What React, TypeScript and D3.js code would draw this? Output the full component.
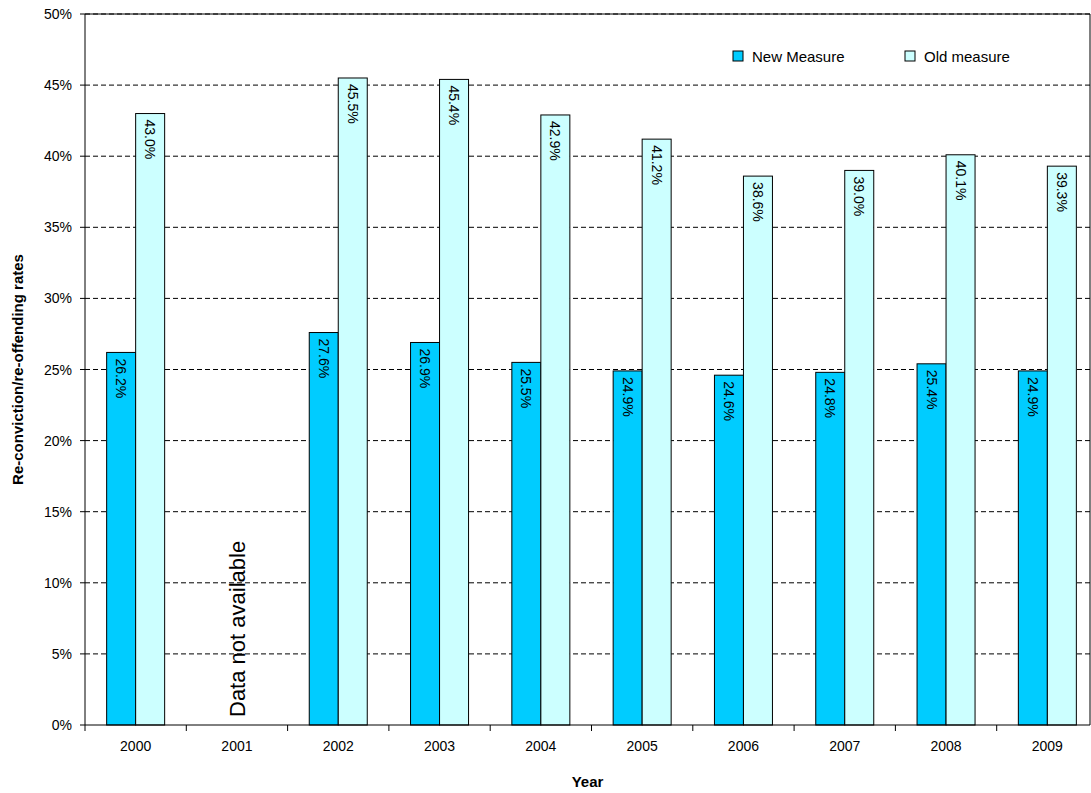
import React from 'react';
import * as d3 from 'd3';

const years = ['2000', '2001', '2002', '2003', '2004', '2005', '2006', '2007', '2008', '2009'];
const newMeasure: (number | null)[] = [26.2, null, 27.6, 26.9, 25.5, 24.9, 24.6, 24.8, 25.4, 24.9];
const oldMeasure: (number | null)[] = [43.0, null, 45.5, 45.4, 42.9, 41.2, 38.6, 39.0, 40.1, 39.3];
const yTicks = [0, 5, 10, 15, 20, 25, 30, 35, 40, 45, 50];

const W = 1091, H = 793;
const m = { left: 85, right: 1090, top: 14, bottom: 725 };
const font = 'Arial, "Liberation Sans", sans-serif';

export default function App() {
  const x = d3.scaleBand<string>().domain(years).range([m.left, m.left + 1013]);
  const y = d3.scaleLinear().domain([0, 50]).range([m.bottom, m.top]);
  const bw = 29;
  const series = [
    { name: 'New Measure', data: newMeasure, fill: '#00CCFF', off: -bw },
    { name: 'Old measure', data: oldMeasure, fill: '#CCFFFF', off: 0 },
  ];
  return (
    <svg width={W} height={H} style={{ position: 'absolute', left: 0, top: 0, background: '#fff' }} fontFamily={font}>
      {yTicks.map(t => (
        <g key={t}>
          {t > 0 && <line x1={m.left} x2={m.right} y1={y(t)} y2={y(t)} stroke="#000" strokeDasharray="5,3" strokeWidth={1} />}
          <line x1={m.left - 5} x2={m.left} y1={y(t)} y2={y(t)} stroke="#000" />
          <text x={m.left - 13} y={y(t) + 5} textAnchor="end" fontSize={14}>{t}%</text>
        </g>
      ))}
      {series.map(s => s.data.map((v, i) => v == null ? null : (
        <g key={s.name + i}>
          <rect x={x(years[i])! + x.bandwidth() / 2 + s.off} y={y(v)} width={bw} height={m.bottom - y(v)} fill={s.fill} stroke="#000" strokeWidth={1} />
          <text transform={`translate(${x(years[i])! + x.bandwidth() / 2 + s.off + bw / 2 - 5},${y(v) + 6}) rotate(90)`} fontSize={14}>{v.toFixed(1)}%</text>
        </g>
      )))}
      <text transform={`translate(${x('2001')! + x.bandwidth() / 2 + 8},${m.bottom - 8}) rotate(-90)`} fontSize={22}>Data not available</text>
      <line x1={m.left} x2={m.left} y1={m.top} y2={m.bottom} stroke="#000" />
      <line x1={m.right} x2={m.right} y1={m.top} y2={m.bottom} stroke="#000" />
      <line x1={m.left} x2={m.right} y1={m.top} y2={m.top} stroke="#000" />
      <line x1={m.left} x2={m.right} y1={m.bottom} y2={m.bottom} stroke="#000" />
      {years.map(yr => (
        <g key={yr}>
          <line x1={x(yr)} x2={x(yr)} y1={m.bottom} y2={m.bottom + 6} stroke="#000" />
          <text x={x(yr)! + x.bandwidth() / 2} y={m.bottom + 26} textAnchor="middle" fontSize={14}>{yr}</text>
        </g>
      ))}
      <text x={(m.left + m.right) / 2} y={787} textAnchor="middle" fontSize={15} fontWeight="bold">Year</text>
      <text transform={`translate(23,${(m.top + m.bottom) / 2}) rotate(-90)`} textAnchor="middle" fontSize={15} fontWeight="bold">Re-conviction/re-offending rates</text>
      {series.map((s, i) => (
        <g key={s.name} transform={`translate(${733 + i * 172},51)`}>
          <rect width={10} height={10} fill={s.fill} stroke="#000" />
          <text x={19} y={11} fontSize={15}>{s.name}</text>
        </g>
      ))}
    </svg>
  );
}
